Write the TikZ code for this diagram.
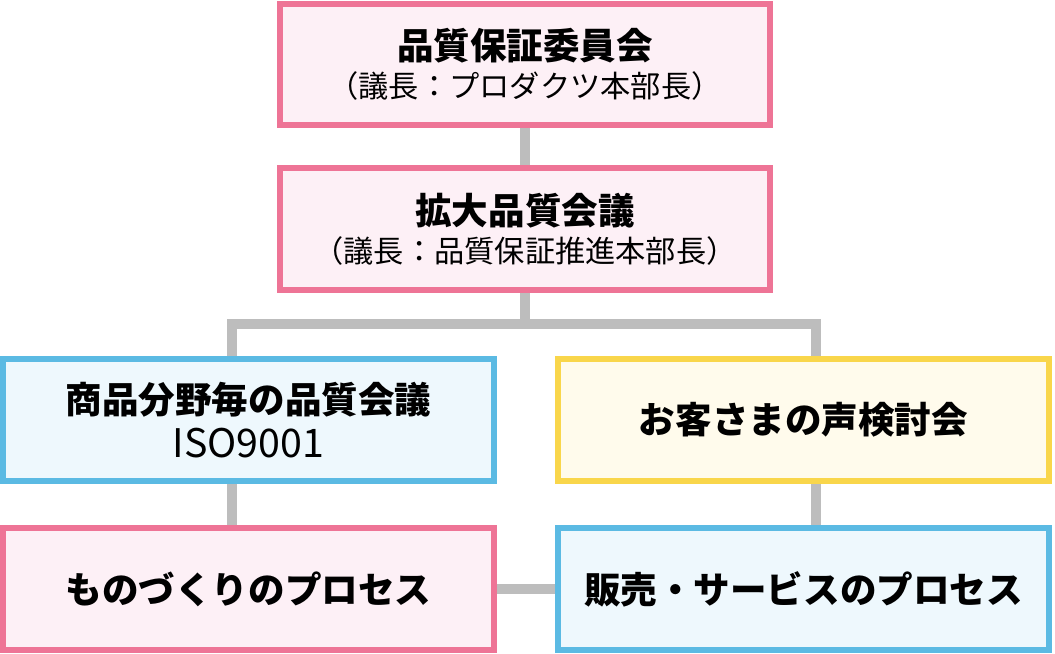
\documentclass[tikz,border=0pt]{standalone}
\usepackage{fontspec}
\setmainfont{Noto Sans CJK JP}
\usetikzlibrary{backgrounds}
\definecolor{pinkline}{HTML}{EE7496}
\definecolor{pinkfill}{HTML}{FDF0F6}
\definecolor{blueline}{HTML}{5BBAE3}
\definecolor{bluefill}{HTML}{EEF8FD}
\definecolor{yellowline}{HTML}{F9D64B}
\definecolor{yellowfill}{HTML}{FFFBEC}
\definecolor{linkgray}{HTML}{BDBDBD}
\newcommand{\headfont}{\fontsize{26}{30}\selectfont\bfseries}
\newcommand{\subfont}{\fontsize{21.5}{25}\selectfont}
\newcommand{\codefont}{\fontsize{28}{32}\selectfont}
\begin{document}
\begin{tikzpicture}[
            x=0.025cm, y=-0.025cm,
            box/.style={rectangle, draw, line width=0.15cm, minimum width=12.25cm,
                minimum height=3.025cm, inner sep=0pt, align=center},
            pinkbox/.style={box, draw=pinkline, fill=pinkfill},
            bluebox/.style={box, draw=blueline, fill=bluefill},
            yellowbox/.style={box, draw=yellowline, fill=yellowfill},
            link/.style={draw=linkgray, line width=0.25cm}
            ]
            \useasboundingbox (0,0) rectangle (1055,653);
            \node[pinkbox] (q1) at (525,64.5) {\headfont 品質保証委員会\\[5pt]\subfont （議長：プロダクツ本部長）};
            \node[pinkbox] (q2) at (525,229) {\headfont 拡大品質会議\\[5pt]\subfont （議長：品質保証推進本部長）};
            \node[bluebox] (q3) at (248.5,420) {\headfont 商品分野毎の品質会議\\[7pt]\codefont ISO9001};
            \node[yellowbox] (q4) at (803.5,420) {\headfont お客さまの声検討会};
            \node[pinkbox] (q5) at (248.5,589) {\headfont ものづくりのプロセス};
            \node[bluebox] (q6) at (803.5,589) {\headfont 販売・サービスのプロセス};
            \coordinate (jl) at (232,324);
            \coordinate (jr) at (816,324);

            \begin{scope}[on background layer]
            \draw[link] (q1.south)--(q2.north);
            \draw[link] (q2.south) |- (jl)--(jl |- q3.north);
            \draw[link] (q2.south) |- (jr)--(jr |- q4.north);
            \draw[link] (jl |- q3.south)--(jl |- q5.north);
            \draw[link] (jr |- q4.south)--(jr |- q6.north);
            \draw[link] (q5.east)--(q6.west);
            \end{scope}

            \end{tikzpicture}
\end{document}
